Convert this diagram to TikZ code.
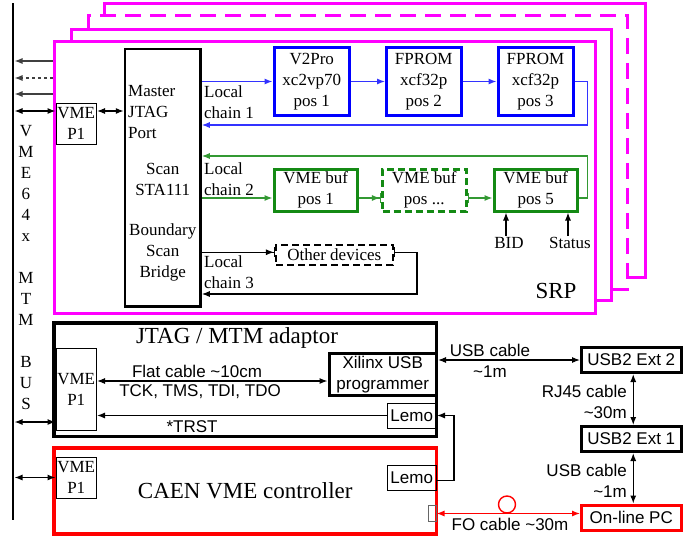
\documentclass[tikz,border=0pt]{standalone}
\usepackage{fontspec}
\setmainfont{Liberation Serif}
\setsansfont{Liberation Sans}
\usetikzlibrary{arrows.meta}
\definecolor{mag}{HTML}{FF00FF}
\definecolor{bl}{HTML}{0000FF}
\definecolor{bll}{HTML}{3333FF}
\definecolor{gr}{HTML}{148A14}
\definecolor{grl}{HTML}{339933}
\definecolor{rd}{HTML}{FF0000}
\begin{document}
\begin{tikzpicture}[x=1pt,y=-1pt,
  serif/.style={font=\fontsize{17}{21}\selectfont},
  sans/.style={font=\sffamily\fontsize{17}{21}\selectfont},
  big/.style={font=\fontsize{23}{27}\selectfont},
  box/.style={draw, inner sep=0pt, align=center, serif},
  thinbox/.style={box, line width=1pt},
  blbox/.style={box, draw=bl, line width=3pt},
  grbox/.style={box, draw=gr, line width=3pt},
  blkbox/.style={box, line width=3pt},
  arr/.style={-{Latex[length=8pt,width=6pt]}},
  darr/.style={{Latex[length=8pt,width=6pt]}-{Latex[length=8pt,width=6pt]}},
  barr/.style={-{Latex[length=8pt,width=6pt] Bar[width=10pt]}},
  rbarr/.style={{Bar[width=10pt]}-{Latex[length=8pt,width=6pt]}},
  conn/.style={line width=1.1pt},
  lbl/.style={inner sep=0pt, align=left, serif},
  board/.style={draw=mag, line width=3pt},
  dsh/.style={dash pattern=on 7pt off 4pt}
]
\useasboundingbox (0,0) rectangle (697,536);

% VME bus
\coordinate (bus) at (14.5,0);
\draw[line width=2.5pt] (13,3) -- (13,520);
\node[serif, align=center, inner sep=0pt] (bustxt) at (26,268)
  {V\\M\\E\\6\\4\\x\\\mbox{}\\M\\T\\M\\\mbox{}\\B\\U\\S};

% boards behind
\draw[board] (71,41) -- (71,29) -- (611,29) -- (611,300) -- (595,300);
\draw[board, dash pattern=on 16pt off 9pt] (88,28) -- (88,15) -- (627,15) -- (627,289) -- (611,289);
\draw[board] (104,15) -- (104,3) -- (645,3) -- (645,277) -- (627,277);

% front board SRP
\node[board, minimum width=541pt, minimum height=272pt, inner sep=0pt] (srp) at (324.5,177) {};
\node[big, inner sep=0pt] (srpt) at (556,291) {SRP};

\draw[conn, arr, black!75] (srp.west |- 0,61) -- (bus |- 0,61);
\draw[conn, arr, black!75, dashed] (srp.west |- 0,78) -- (bus |- 0,78);
\draw[conn, arr, black!75] (srp.west |- 0,94) -- (bus |- 0,94);

\node[thinbox, minimum width=40.5pt, minimum height=41pt] (p1a) at (76.25,123.5) {VME\\P1};
\draw[conn, darr] (bus |- 0,111) -- (p1a.west |- 0,111);

\node[box, line width=2.5pt, minimum width=75.5pt, minimum height=257.5pt] (jtag) at (162.75,177.75) {};
\node[lbl, anchor=west] (mt) at (128,112.5) {Master\\JTAG\\Port};
\node[serif, align=center, inner sep=0pt] (sc) at (162.75,179) {Scan\\STA111};
\node[serif, align=center, inner sep=0pt] (bsb) at (162.75,252) {Boundary\\Scan\\Bridge};
\draw[conn, darr] (p1a.east |- 0,111) -- (jtag.west |- 0,111);

% chain 1
\node[blbox, minimum width=75.5pt, minimum height=68pt] (v2p) at (311.75,81.5) {V2Pro\\xc2vp70\\pos 1};
\node[blbox, minimum width=74.5pt, minimum height=68pt] (fp2) at (423.75,81.5) {FPROM\\xcf32p\\pos 2};
\node[blbox, minimum width=75pt, minimum height=68pt] (fp3) at (535.5,81.5) {FPROM\\xcf32p\\pos 3};
\node[lbl, anchor=west] (l1) at (204,102) {Local\\chain 1};
\draw[conn, bll, arr] (jtag.east |- v2p.west) -- (v2p.west);
\draw[conn, bll, arr] (v2p.east) -- (fp2.west);
\draw[conn, bll, arr] (fp2.east) -- (fp3.west);
\draw[conn, bll, arr] (fp3.east) -- ++(13,0) |- (jtag.east |- 0,125);

% chain 2
\node[grbox, minimum width=83.5pt, minimum height=42pt] (b1) at (315.75,190) {VME buf\\pos 1};
\node[grbox, dsh, minimum width=83.5pt, minimum height=42pt] (bd) at (424.25,190) {VME buf\\pos ...};
\node[grbox, minimum width=83.5pt, minimum height=42pt] (b5) at (535.75,190) {VME buf\\pos 5};
\node[lbl, anchor=west] (l2) at (204,179) {Local\\chain 2};
\coordinate (c2a) at ([yshift=-8pt]b1.west);
\draw[conn, grl, arr] (jtag.east |- c2a) -- (c2a);
\draw[conn, grl, barr] ([yshift=-8pt]b1.east) -- ([yshift=-8pt]bd.west);
\draw[conn, grl, rbarr] ([yshift=-8pt]bd.east) -- ([yshift=-8pt]b5.west);
\draw[conn, grl, arr] ([yshift=-8pt]b5.east) -- ++(8.5,0) |- (jtag.east |- 0,156);

\node[serif, inner sep=1pt] (bid) at (509,243) {BID};
\node[serif, inner sep=1pt] (status) at (570,243) {Status};
\draw[conn, arr] ([xshift=-3pt]bid.north) -- ([xshift=-3pt]bid.north |- b5.south);
\draw[conn, arr] ([xshift=-2pt]status.north) -- ([xshift=-2pt]status.north |- b5.south);

% chain 3
\node[box, dsh, line width=2pt, minimum width=116.5pt, minimum height=20.5pt] (oth) at (334.25,254.75) {Other devices};
\node[lbl, anchor=west] (l3) at (204,272) {Local\\chain 3};
\coordinate (c3a) at ([yshift=2.5pt]oth.west);
\draw[conn, barr] (jtag.east |- c3a) -- (c3a);
\draw[conn, rbarr] ([yshift=2.5pt]oth.east) -- ++(23.5,0) |- (jtag.east |- 0,294);

% JTAG / MTM adaptor
\node[box, line width=3.2pt, minimum width=382.5pt, minimum height=113.5pt] (adp) at (245.25,379.75) {};
\node[big, inner sep=0pt] (adt) at (237,338) {JTAG / MTM adaptor};
\node[thinbox, minimum width=40.5pt, minimum height=82pt] (p1b) at (76.25,389) {VME\\P1};
\node[blkbox, sans, minimum width=107.5pt, minimum height=41.5pt] (xil) at (382.75,374.25) {Xilinx USB\\programmer};
\node[thinbox, sans, minimum width=49.5pt, minimum height=25pt] (lemoA) at (411.75,415.5) {Lemo};
\draw[conn, darr] (bus |- 0,422) -- (p1b.west |- 0,422);
\draw[conn, darr] (p1b.east |- 0,381) -- (xil.west |- 0,381);
\node[sans, inner sep=0pt] (fl1) at (197,371) {Flat cable \textasciitilde10cm};
\node[sans, inner sep=0pt] (fl2) at (200,392) {TCK, TMS, TDI, TDO};
\draw[conn, arr] (lemoA.west) -- (p1b.east |- lemoA.west);
\node[sans, inner sep=0pt] (trst) at (192,427) {*TRST};

% CAEN
\node[box, draw=rd, line width=3.2pt, big, minimum width=382.5pt, minimum height=86pt] (caen) at (245.25,491) {CAEN VME controller};
\node[thinbox, minimum width=40.5pt, minimum height=41pt] (p1c) at (76.25,477.5) {VME\\P1};
\node[thinbox, sans, minimum width=49.5pt, minimum height=24.5pt] (lemoB) at (411.75,477.75) {Lemo};
\node[draw=black!60, line width=1pt, minimum width=7.5pt, minimum height=16pt, inner sep=0pt] (fo) at (432.25,513.5) {};
\draw[conn, darr] (bus |- p1c.west) -- (p1c.west);
\draw[conn, arr] ([yshift=-3pt]lemoB.east) -- ++(17,0) |- (lemoA.east);

% right side
\node[blkbox, sans, minimum width=99.5pt, minimum height=25pt] (ext2) at (631.25,360) {USB2 Ext 2};
\node[blkbox, sans, minimum width=99.5pt, minimum height=25pt] (ext1) at (631.25,439) {USB2 Ext 1};
\node[blkbox, draw=rd, sans, minimum width=99.5pt, minimum height=25.5pt] (pc) at (631.25,517.75) {On-line PC};
\draw[conn, darr] (xil.east |- ext2.west) -- (ext2.west);
\node[sans, align=center, inner sep=0pt] (usbt) at (490,360.5) {USB cable\\\textasciitilde1m};
\draw[conn, darr] ([xshift=2pt]ext2.south) -- ([xshift=2pt]ext1.north);
\node[sans, align=right, inner sep=0pt, anchor=east] (rj) at (627,402) {RJ45 cable\\\textasciitilde30m};
\draw[conn, darr] ([xshift=2pt]ext1.south) -- ([xshift=2pt]pc.north);
\node[sans, align=right, inner sep=0pt, anchor=east] (usb2) at (627,481) {USB cable\\\textasciitilde1m};
\draw[conn, rd, darr] (fo.east) -- (pc.west |- fo.east);
\node[draw=rd, line width=1.4pt, circle, minimum size=17pt, inner sep=0pt] (foc) at (507,504.5) {};
\node[sans, inner sep=0pt] (fot) at (510,524) {FO cable \textasciitilde30m};
\end{tikzpicture}
\end{document}
